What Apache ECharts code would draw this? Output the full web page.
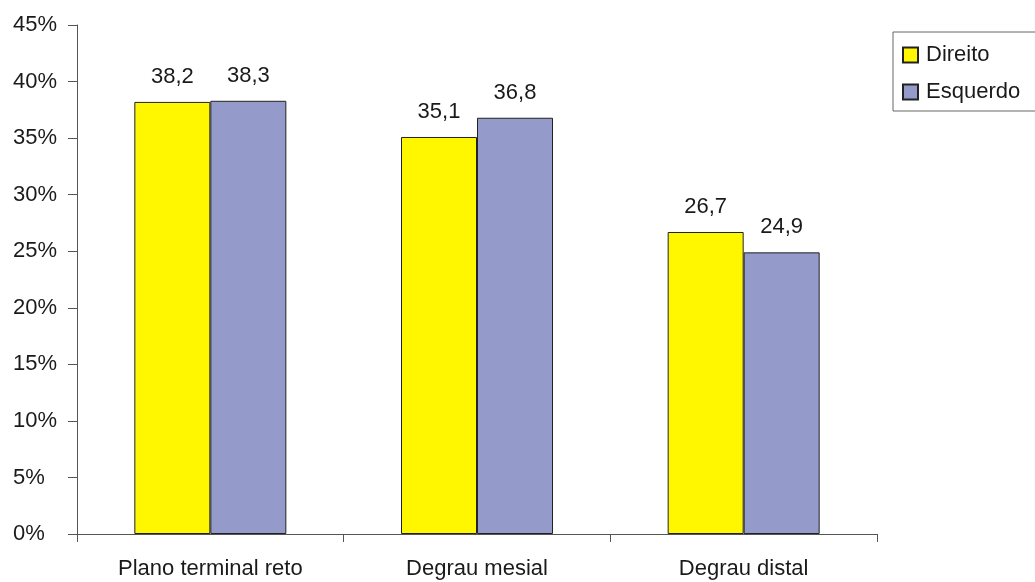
<!DOCTYPE html>
<html>
<head>
<meta charset="utf-8">
<script src="https://cdn.jsdelivr.net/npm/echarts@6/dist/echarts.min.js"></script>
<style>
  html, body { margin: 0; padding: 0; background: #fff; }
  #chart { width: 1035px; height: 582px; }
</style>
</head>
<body>
<div id="chart"></div>
<script>
// Occlusion types and share of cases on each side
const categories = ['Plano terminal reto', 'Degrau mesial', 'Degrau distal'];
const direito = [38.2, 35.1, 26.7];
const esquerdo = [38.3, 36.8, 24.9];
const seriesNames = ['Direito', 'Esquerdo'];

const FONT = '"Liberation Sans", Arial, sans-serif';
const TEXT = '#1a1a1a';
const AXIS = '#555';
const FS = 22;

const chart = echarts.init(document.getElementById('chart'));

const fmtComma = v => String(v.toFixed(1)).replace('.', ',');

function barSeries(name, data, color) {
  return {
    name: name,
    type: 'bar',
    data: data,
    barGap: '0%',
    barCategoryGap: '43%',
    itemStyle: { color: color, borderColor: '#222', borderWidth: 1 },
    label: {
      show: true,
      position: 'top',
      distance: 14,
      fontFamily: FONT,
      fontSize: FS,
      color: TEXT,
      formatter: p => fmtComma(p.value)
    },
    emphasis: { disabled: true }
  };
}

chart.setOption({
  animation: false,
  textStyle: { fontFamily: FONT },
  grid: { left: 77, right: 158, top: 25, bottom: 48 },
  legend: {
    data: seriesNames,
    orient: 'vertical',
    left: 893,
    top: 32,
    padding: [12, 40, 8, 9],
    itemGap: 15,
    itemWidth: 15,
    itemHeight: 15,
    icon: 'rect',
    borderColor: '#666',
    borderWidth: 1,
    textStyle: { fontFamily: FONT, fontSize: FS, color: TEXT, padding: [0, 0, 0, 3] }
  },
  xAxis: {
    type: 'category',
    data: categories,
    axisLine: { lineStyle: { color: AXIS, width: 1 } },
    axisTick: { show: true, length: 8, alignWithLabel: false, lineStyle: { color: AXIS } },
    axisLabel: { fontFamily: FONT, fontSize: FS, color: TEXT, margin: 24 }
  },
  yAxis: {
    type: 'value',
    min: 0,
    max: 45,
    interval: 5,
    splitLine: { show: false },
    axisLine: { show: true, lineStyle: { color: AXIS, width: 1 } },
    axisTick: { show: true, length: 9, lineStyle: { color: AXIS } },
    axisLabel: {
      fontFamily: FONT,
      fontSize: FS,
      color: TEXT,
      align: 'left',
      margin: 64,
      formatter: v => v + '%'
    }
  },
  series: [
    barSeries(seriesNames[0], direito, '#FFF700'),
    barSeries(seriesNames[1], esquerdo, '#949BCA')
  ]
});
</script>
</body>
</html>
